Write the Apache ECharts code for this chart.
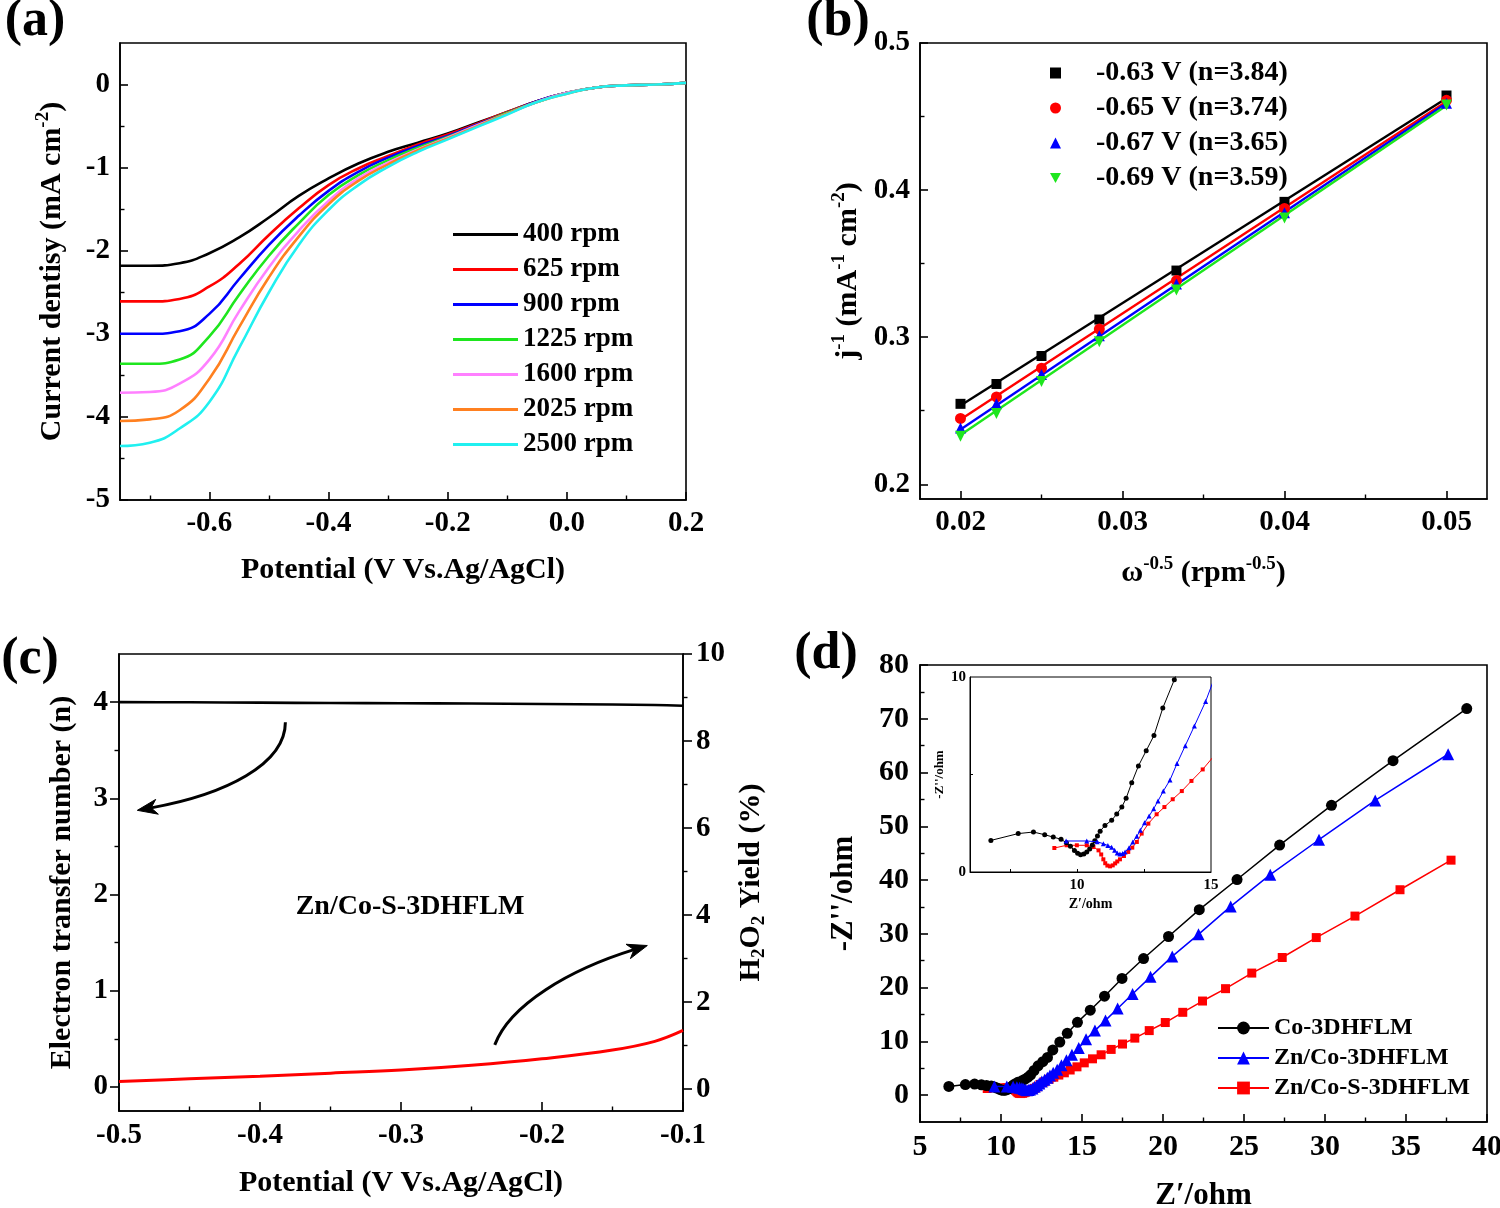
<!DOCTYPE html>
<html><head><meta charset="utf-8">
<script src="https://cdn.jsdelivr.net/npm/echarts@6/dist/echarts.min.js"></script>
<style>html,body{margin:0;padding:0;background:#fff}#c{width:1500px;height:1208px}</style>
</head><body><div id="c"></div>
<script>
// ---------------- Panel (a): LSV curves ----------------
const aX    = [-0.75,-0.70,-0.65,-0.60,-0.55,-0.50,-0.45,-0.40,-0.35,-0.30,-0.25,-0.20,-0.15,-0.10,-0.05,0.00,0.05,0.10,0.15,0.20];
const a400  = [-2.18,-2.18,-2.15,-2.03,-1.84,-1.60,-1.34,-1.13,-0.95,-0.81,-0.70,-0.59,-0.46,-0.33,-0.20,-0.10,-0.035,-0.01,0.00,0.02];
const a625  = [-2.61,-2.61,-2.58,-2.43,-2.16,-1.81,-1.49,-1.21,-1.01,-0.86,-0.72,-0.60,-0.47,-0.33,-0.20,-0.10,-0.035,-0.01,0.00,0.02];
const a900  = [-3.00,-3.00,-2.97,-2.76,-2.34,-1.93,-1.58,-1.28,-1.05,-0.88,-0.74,-0.62,-0.48,-0.34,-0.20,-0.10,-0.035,-0.01,0.00,0.02];
const a1225 = [-3.36,-3.36,-3.31,-3.03,-2.53,-2.06,-1.67,-1.33,-1.09,-0.91,-0.76,-0.63,-0.49,-0.34,-0.21,-0.10,-0.035,-0.01,0.00,0.02];
const a1600 = [-3.71,-3.70,-3.60,-3.31,-2.73,-2.20,-1.76,-1.40,-1.13,-0.94,-0.78,-0.64,-0.49,-0.35,-0.21,-0.10,-0.035,-0.01,0.00,0.02];
const a2025 = [-4.05,-4.03,-3.92,-3.54,-2.92,-2.32,-1.83,-1.44,-1.16,-0.96,-0.79,-0.65,-0.50,-0.35,-0.21,-0.11,-0.035,-0.01,0.00,0.02];
const a2500 = [-4.35,-4.31,-4.14,-3.82,-3.17,-2.50,-1.93,-1.51,-1.21,-0.99,-0.81,-0.66,-0.51,-0.36,-0.21,-0.11,-0.035,-0.01,0.00,0.02];
const aNames  = ['400 rpm','625 rpm','900 rpm','1225 rpm','1600 rpm','2025 rpm','2500 rpm'];
const aColors = ['#000000','#ff0000','#0000ff','#1ee61e','#ff80ff','#ff8020','#20f0f0'];
const aXTicks = [-0.6,-0.4,-0.2,0,0.2];
const aXMinor = [-0.7,-0.5,-0.3,-0.1,0.1];
const aYTicks = [-5,-4,-3,-2,-1,0];
const aYMinor = [-4.5,-3.5,-2.5,-1.5,-0.5];

// ---------------- Panel (b): Koutecky-Levich ----------------
const bX    = [0.02,0.02222,0.025,0.02857,0.03333,0.04,0.05];
const b063  = [0.2547,0.2682,0.2872,0.3120,0.3453,0.3920,0.4643];
const b065  = [0.2448,0.2594,0.2789,0.3055,0.3385,0.3875,0.4610];
const b067  = [0.2383,0.2547,0.2747,0.3010,0.3362,0.3846,0.4590];
const b069  = [0.2326,0.2482,0.2698,0.2969,0.3320,0.3810,0.4578];
const bFitX   = [0.02,0.05];
const bFit063 = [0.2535,0.4625];
const bFit065 = [0.2440,0.4602];
const bFit067 = [0.2372,0.4590];
const bFit069 = [0.2335,0.4575];
const bNames  = ['-0.63 V (n=3.84)','-0.65 V (n=3.74)','-0.67 V (n=3.65)','-0.69 V (n=3.59)'];
const bColors = ['#000000','#ff0000','#0000ff','#1ee61e'];
const bXTicks = [0.02,0.03,0.04,0.05];
const bXMinor = [0.025,0.035,0.045];
const bYTicks = [0.2,0.3,0.4,0.5];
const bYMinor = [0.25,0.35,0.45];

// ---------------- Panel (c): n and H2O2 yield ----------------
const cX     = [-0.5,-0.45,-0.4,-0.35,-0.3,-0.25,-0.2,-0.15,-0.12,-0.1];
const cN     = [4.0,3.998,3.995,3.99,3.988,3.985,3.98,3.975,3.97,3.962];
const cYield = [0.18,0.24,0.30,0.37,0.44,0.55,0.70,0.90,1.10,1.35];
const cArrow1 = [[-0.382,3.79],[-0.382,3.354],[-0.4244,3.04],[-0.487,2.875]];
const cArrow2 = [[-0.2335,0.4375],[-0.2229,0.854],[-0.1805,1.22],[-0.1253,1.47]];
const cXTicks  = [-0.5,-0.4,-0.3,-0.2,-0.1];
const cXMinor  = [-0.45,-0.35,-0.25,-0.15];
const cYTicks  = [0,1,2,3,4];
const cYMinor  = [0.5,1.5,2.5,3.5];
const cY2Ticks = [0,2,4,6,8,10];
const cY2Minor = [1,3,5,7,9];

// ---------------- Panel (d): Nyquist ----------------
const dCo = [[6.78,1.62],[7.8,1.97],[8.37,2.05],[8.79,1.91],[9.11,1.79],[9.4,1.68],[9.6,1.5],[9.75,1.32],[9.9,1.1],[10.02,0.96],[10.13,0.89],[10.25,0.92],[10.36,1.02],[10.47,1.18],[10.57,1.38],[10.66,1.6],[10.76,1.84],[10.86,2.09],[11.04,2.39],[11.29,2.65],[11.48,2.97],[11.67,3.33],[11.83,3.78],[12.04,4.58],[12.29,5.44],[12.58,6.22],[12.87,7.0],[13.2,8.41],[13.63,9.86],[14.09,11.5],[14.72,13.55],[15.51,15.8],[16.39,18.4],[17.47,21.7],[18.8,25.4],[20.34,29.5],[22.24,34.5],[24.57,40.1],[27.2,46.5],[30.4,53.9],[34.2,62.2],[38.75,71.9]];
const dZnCo = [[9.59,1.59],[10.36,1.59],[10.75,1.55],[10.98,1.45],[11.15,1.36],[11.29,1.27],[11.4,1.12],[11.5,0.98],[11.6,0.92],[11.7,0.95],[11.79,1.03],[11.94,1.25],[12.08,1.54],[12.23,1.83],[12.36,2.14],[12.52,2.53],[12.69,2.87],[12.86,3.25],[13.02,3.64],[13.22,4.15],[13.47,4.72],[13.73,5.56],[14.04,6.48],[14.38,7.49],[14.8,8.75],[15.25,10.4],[15.8,12.0],[16.45,13.9],[17.2,16.1],[18.12,18.8],[19.23,22.0],[20.57,25.8],[22.19,29.9],[24.18,35.1],[26.62,41.0],[29.63,47.5],[33.1,54.8],[37.6,63.4]];
const dZnCoS = [[9.15,1.23],[9.61,1.37],[9.99,1.37],[10.36,1.37],[10.61,1.28],[10.8,1.11],[10.9,0.9],[10.98,0.65],[11.05,0.45],[11.13,0.33],[11.23,0.29],[11.33,0.34],[11.42,0.44],[11.5,0.54],[11.6,0.65],[11.75,0.82],[11.91,1.03],[12.06,1.25],[12.23,1.54],[12.41,1.97],[12.66,2.48],[12.97,2.96],[13.26,3.33],[13.57,3.73],[13.91,4.15],[14.27,4.67],[14.69,5.26],[15.14,6.0],[15.65,6.75],[16.18,7.5],[16.8,8.5],[17.5,9.5],[18.26,10.6],[19.15,12.0],[20.14,13.5],[21.22,15.4],[22.44,17.5],[23.86,19.8],[25.48,22.7],[27.36,25.6],[29.46,29.3],[31.85,33.3],[34.63,38.2],[37.78,43.7]];
const dNames  = ['Co-3DHFLM','Zn/Co-3DHFLM','Zn/Co-S-3DHFLM'];
const dXTicks = [5,10,15,20,25,30,35,40];
const dXMinor = [7.5,12.5,17.5,22.5,27.5,32.5,37.5];
const dYTicks = [0,10,20,30,40,50,60,70,80];
const dYMinor = [5,15,25,35,45,55,65,75];
const insXTicks  = [7.5,10,12.5];
const insXLabels = [10,15];
const insYTicks  = [5];
const insYLabels = [0,10];

// ---------------- helpers ----------------
const FONT = 'Liberation Serif';
const txt = (s) => ({fontFamily: FONT, fontWeight: 'bold', fontSize: s, color: '#000'});
const f1 = v => Number(v).toFixed(1);
const f2 = v => Number(v).toFixed(2);
const f0 = v => String(Math.round(v));

function major(o) {
  return {
    type: 'value', gridIndex: o.g, min: o.min, max: o.max, position: o.pos,
    name: o.name || '', nameLocation: 'middle', nameGap: o.gap || 0,
    nameTextStyle: Object.assign(txt(o.nfs || 30), {lineHeight: o.nlh || 36, rich: {
      sup: {fontFamily: FONT, fontWeight: 'bold', fontSize: o.sfs || 19, color: '#000', verticalAlign: 'top'},
      sub: {fontFamily: FONT, fontWeight: 'bold', fontSize: o.sfs || 19, color: '#000', verticalAlign: 'bottom'}
    }}),
    axisLine: {show: true, onZero: false, lineStyle: {color: '#000', width: o.lw || 1.6}},
    axisTick: {show: true, inside: o.inside, length: o.tl || 8, lineStyle: {color: '#000', width: o.lw || 1.6}, customValues: o.ticks},
    axisLabel: Object.assign(txt(o.fs || 29), {show: true, margin: o.margin, customValues: o.labels || o.ticks, formatter: o.fmt}),
    splitLine: {show: false}, splitArea: {show: false}, minorTick: {show: false}, minorSplitLine: {show: false}
  };
}
function minor(o) {
  return {
    type: 'value', gridIndex: o.g, min: o.min, max: o.max, position: o.pos,
    axisLine: {show: false, onZero: false}, axisLabel: {show: false}, splitLine: {show: false},
    axisTick: {show: true, inside: o.inside, length: o.tl || 4.5, lineStyle: {color: '#000', width: o.lw || 1.4}, customValues: o.ticks}
  };
}
const gridBox = (l, t, w, h, extra) => Object.assign({left: l, top: t, width: w, height: h, show: true, borderColor: '#000', borderWidth: 1.6, backgroundColor: 'rgba(0,0,0,0)', containLabel: false, outerBoundsMode: 'none'}, extra || {});

const xAxes = [
  major({g:0, min:-0.75, max:0.2, pos:'bottom', inside:true, ticks:aXTicks, fmt:f1, margin:9, name:'Potential (V Vs.Ag/AgCl)', gap:52}),
  minor({g:0, min:-0.75, max:0.2, pos:'bottom', inside:true, ticks:aXMinor}),
  major({g:1, min:0.0175, max:0.0525, pos:'bottom', inside:true, ticks:bXTicks, fmt:f2, margin:9, name:'ω{sup|-0.5} (rpm{sup|-0.5})', gap:56}),
  minor({g:1, min:0.0175, max:0.0525, pos:'bottom', inside:true, ticks:bXMinor}),
  major({g:2, min:-0.5, max:-0.1, pos:'bottom', inside:true, ticks:cXTicks, fmt:f1, margin:10, tl:9, name:'Potential (V Vs.Ag/AgCl)', gap:54}),
  minor({g:2, min:-0.5, max:-0.1, pos:'bottom', inside:true, ticks:cXMinor}),
  major({g:3, min:5, max:40, pos:'bottom', inside:true, ticks:dXTicks, fmt:f0, margin:10, fs:30, name:'Z′/ohm', nfs:31, gap:56}),
  minor({g:3, min:5, max:40, pos:'bottom', inside:true, ticks:dXMinor}),
  major({g:4, min:6, max:15, pos:'bottom', inside:true, ticks:insXTicks, labels:insXLabels, fmt:f0, margin:6, fs:15, tl:3, lw:1, name:'Z′/ohm', nfs:14, nlh:16, gap:24}),
  minor({g:4, min:6, max:15, pos:'bottom', inside:true, ticks:[], tl:2})
];
const yAxes = [
  major({g:0, min:-5, max:0.5, pos:'left', inside:true, ticks:aYTicks, fmt:f0, margin:10, name:'Current dentisy (mA cm{sup|-2})', gap:50}),
  minor({g:0, min:-5, max:0.5, pos:'left', inside:true, ticks:aYMinor}),
  major({g:1, min:0.19, max:0.5, pos:'left', inside:true, ticks:bYTicks, fmt:f1, margin:10, name:'j{sup|-1} (mA{sup|-1} cm{sup|-2})', gap:54}),
  minor({g:1, min:0.19, max:0.5, pos:'left', inside:true, ticks:bYMinor}),
  major({g:2, min:-0.25, max:4.5, pos:'left', inside:false, ticks:cYTicks, fmt:f0, margin:11, tl:9, name:'Electron transfer number (n)', gap:39}),
  minor({g:2, min:-0.25, max:4.5, pos:'left', inside:false, ticks:cYMinor}),
  major({g:2, min:-0.5, max:10, pos:'right', inside:false, ticks:cY2Ticks, fmt:f0, margin:13, tl:9, name:'H{sub|2}O{sub|2} Yield (%)', gap:50}),
  minor({g:2, min:-0.5, max:10, pos:'right', inside:false, ticks:cY2Minor}),
  major({g:3, min:-5, max:80, pos:'left', inside:true, ticks:dYTicks, fmt:f0, margin:11, fs:30, name:"-Z''/ohm", nfs:31, gap:58}),
  minor({g:3, min:-5, max:80, pos:'left', inside:true, ticks:dYMinor}),
  major({g:4, min:0, max:10, pos:'left', inside:true, ticks:insYTicks, labels:insYLabels, fmt:f0, margin:4, fs:15, tl:3, lw:1, name:"-Z''/ohm", nfs:13, nlh:15, gap:18}),
  minor({g:4, min:0, max:10, pos:'left', inside:true, ticks:[], tl:2})
];

const series = [];
// (a)
[a400,a625,a900,a1225,a1600,a2025,a2500].forEach((d, i) => {
  series.push({type:'line', name:aNames[i], xAxisIndex:0, yAxisIndex:0, data:aX.map((x, k) => [x, d[k]]),
    smooth:0.5, symbol:'none', showSymbol:false, lineStyle:{color:aColors[i], width:2.6}, itemStyle:{color:aColors[i]}, z:3+i});
});
// (b)
const bSym = ['rect','circle','triangle','triangle'];
const bRot = [0,0,0,180];
const bSize = [10,11,11,11];
[b063,b065,b067,b069].forEach((d, i) => {
  series.push({type:'scatter', name:bNames[i], xAxisIndex:2, yAxisIndex:2, data:bX.map((x, k) => [x, d[k]]),
    symbol:bSym[i], symbolRotate:bRot[i], symbolSize:bSize[i], itemStyle:{color:bColors[i], opacity:1}, z:5});
});
[bFit063,bFit065,bFit067,bFit069].forEach((d, i) => {
  series.push({type:'line', name:'fit'+i, xAxisIndex:2, yAxisIndex:2, data:bFitX.map((x, k) => [x, d[k]]),
    symbol:'none', lineStyle:{color:bColors[i], width:2.4}, z:4});
});
// (c)
series.push({type:'line', name:'n', xAxisIndex:4, yAxisIndex:4, data:cX.map((x, k) => [x, cN[k]]), symbol:'none', smooth:0.3, lineStyle:{color:'#000', width:2.6}});
series.push({type:'line', name:'H2O2', xAxisIndex:4, yAxisIndex:6, data:cX.map((x, k) => [x, cYield[k]]), symbol:'none', smooth:0.4, lineStyle:{color:'#ff0000', width:3}});
// (d) main
const dDefs = [
  {n:'Zn/Co-S-3DHFLM', d:dZnCoS, c:'#ff0000', s:'rect', sz:9, isz:4},
  {n:'Co-3DHFLM', d:dCo, c:'#000000', s:'circle', sz:11, isz:5},
  {n:'Zn/Co-3DHFLM', d:dZnCo, c:'#0000ff', s:'triangle', sz:12, isz:5}
];
dDefs.forEach((o, i) => {
  series.push({type:'line', name:o.n, xAxisIndex:6, yAxisIndex:8, data:o.d, symbol:o.s, symbolSize:o.sz,
    lineStyle:{color:o.c, width:1.5}, itemStyle:{color:o.c, opacity:1}, z:3+i});
});
dDefs.forEach((o, i) => {
  series.push({type:'line', name:'inset-'+o.n, xAxisIndex:8, yAxisIndex:10, data:o.d, symbol:o.s, symbolSize:o.isz, clip:true,
    lineStyle:{color:o.c, width:1}, itemStyle:{color:o.c, opacity:1}, z:10+i});
});

const bIcons = ['rect','circle','triangle','path://M0,0 L10,0 L5,9 Z'];
const option = {
  animation: false,
  backgroundColor: '#fff',
  textStyle: {fontFamily: FONT},
  grid: [
    gridBox(120, 43, 566, 457),
    gridBox(920, 43, 567, 456),
    gridBox(119, 654, 564, 457),
    gridBox(920, 665, 567, 457),
    gridBox(970, 677, 241, 195, {borderWidth: 1, backgroundColor: '#ffffff'})
  ],
  xAxis: xAxes,
  yAxis: yAxes,
  legend: [
    {data: aNames.map((n, i) => ({name: n, icon: 'rect', itemStyle: {color: aColors[i]}})), orient:'vertical', left:453, top:221,
      itemWidth:65, itemHeight:3, itemGap:8, padding:0, selectedMode:false, textStyle: txt(27)},
    {data: bNames.map((n, i) => ({name: n, icon: bIcons[i], itemStyle: {color: bColors[i]}})), orient:'vertical', left:1050, top:59,
      itemWidth:11, itemHeight:11, itemGap:7, padding:0, selectedMode:false, symbolKeepAspect:true,
      textStyle: Object.assign(txt(28), {padding:[0,0,0,30]})},
    {data: dNames, orient:'vertical', left:1217, top:1016, itemWidth:51, itemHeight:16, itemGap:6, padding:0, selectedMode:false, textStyle: txt(24)}
  ],
  series: series
};

const chart = echarts.init(document.getElementById('c'), null, {renderer: 'canvas'});
chart.setOption(option);

function label(id, text, x, y, size, rot) {
  return {type:'text', id:id, x:x, y:y, rotation: rot || 0, z:100,
    style:{text:text, font:'bold ' + size + 'px "' + FONT + '"', fill:'#000', align:'center', verticalAlign:'middle', textAlign:'center', textVerticalAlign:'middle'}};
}
function arrow(id, pts) {
  const p = pts.map(v => chart.convertToPixel({xAxisIndex:4, yAxisIndex:4}, v));
  const p0 = p[0], p1 = p[1], p2 = p[2], p3 = p[3];
  let dx = p3[0] - p2[0], dy = p3[1] - p2[1];
  const L = Math.hypot(dx, dy); dx /= L; dy /= L;
  const len = 20, w = 7.5;
  const bx = p3[0] - dx * len, by = p3[1] - dy * len;
  const nx = bx + dx * 6, ny = by + dy * 6;
  return [
    {type:'bezierCurve', id:id + 'c', z:50, shape:{x1:p0[0], y1:p0[1], cpx1:p1[0], cpy1:p1[1], cpx2:p2[0], cpy2:p2[1], x2:nx, y2:ny},
      style:{stroke:'#000', lineWidth:3, fill:'none'}},
    {type:'polygon', id:id + 'h', z:51, shape:{points:[[p3[0], p3[1]], [bx - dy * w, by + dx * w], [nx, ny], [bx + dy * w, by - dx * w]]},
      style:{fill:'#000', stroke:'#000', lineWidth:1}}
  ];
}
const graphics = [
  label('la', '(a)', 35, 22, 52),
  label('lb', '(b)', 838, 22, 52),
  label('lc', '(c)', 30, 660, 52),
  label('ld', '(d)', 826, 655, 52),
  label('ctext', 'Zn/Co-S-3DHFLM', 410, 907, 28)
].concat(arrow('ar1', cArrow1), arrow('ar2', cArrow2));
chart.setOption({graphic: graphics});
</script>
</body></html>
